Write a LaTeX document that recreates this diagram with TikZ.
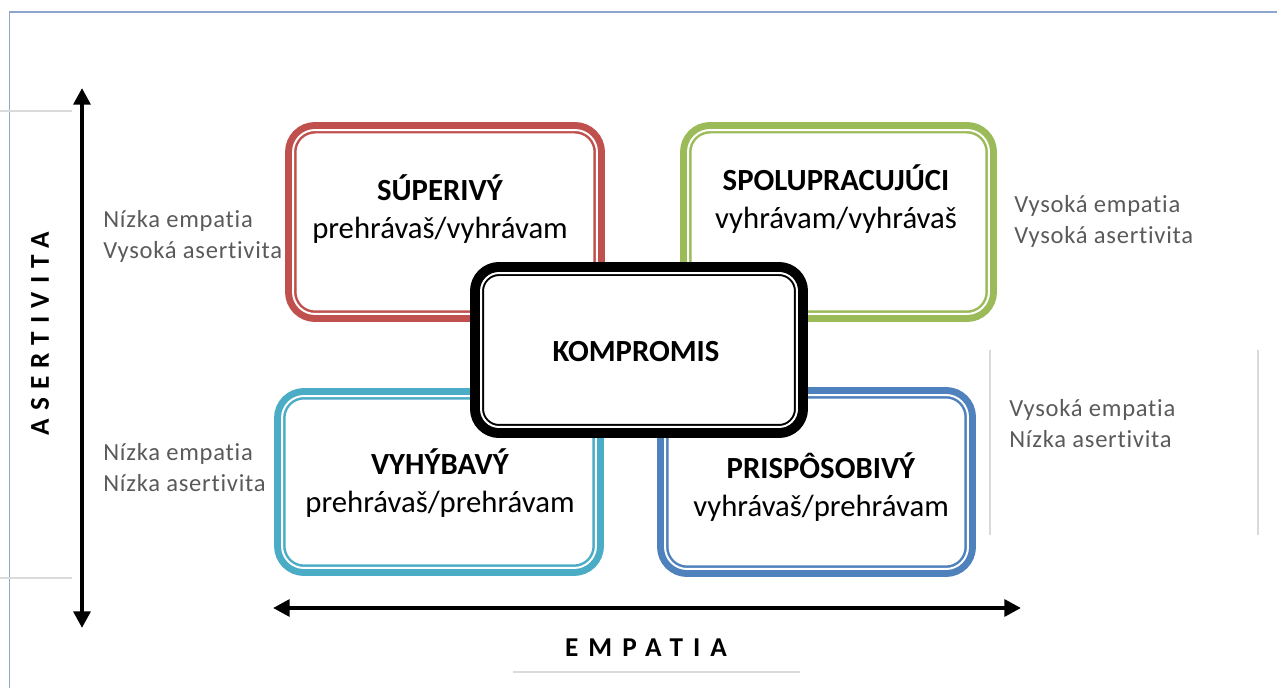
\documentclass[tikz,border=0pt]{standalone}
\usepackage{fontspec}
\setmainfont{Carlito}[Ligatures=CommonOff]
\usepackage{xcolor}
\usetikzlibrary{arrows.meta,positioning}

\definecolor{supred}{HTML}{C0504D}
\definecolor{spolgreen}{HTML}{9BBB59}
\definecolor{vyhcyan}{HTML}{4BACC6}
\definecolor{prisblue}{HTML}{4F81BD}
\definecolor{sidegray}{HTML}{5A5A5A}
\definecolor{frameblue}{HTML}{8EA5CF}
\definecolor{rulegray}{HTML}{DADADA}

\begin{document}
\begin{tikzpicture}[
    x=0.02cm, y=-0.02cm,
    box/.style={rectangle, rounded corners=0.44cm, fill=white, draw=#1,
        line width=3.97pt,
        preaction={draw=#1, line width=9.07pt},
        postaction={draw=white, line width=1.13pt}},
    midbox/.style={rectangle, rounded corners=0.36cm, fill=white, draw=black,
        line width=3.4pt,
        preaction={draw=black, line width=12.5pt},
        postaction={draw=white, line width=1.13pt}},
    boxtext/.style={align=center, font=\fontsize{17.5}{21.5}\selectfont},
    sidenote/.style={align=left, anchor=west, inner xsep=0pt, text=sidegray,
        font=\fontsize{14}{17.6}\selectfont\addfontfeature{LetterSpace=3}},
    axislabel/.style={font=\fontsize{15.5}{18}\selectfont\bfseries\addfontfeature{LetterSpace=#1}},
    axisarrow/.style={{Triangle[length=9.5pt,width=9.5pt]}-{Triangle[length=9.5pt,width=9.5pt]}, line width=2.3pt},
    thinrule/.style={draw=rulegray, line width=0.8pt}
]
    \useasboundingbox (0,0) rectangle (1277,688);

    % Page frame
    \draw[draw=frameblue, line width=0.9pt] (9.5,688) -- (9.5,12) -- (1277,12);
    \draw[thinrule] (0,111) -- (72,111);
    \draw[thinrule] (0,578) -- (72,578);
    \draw[thinrule] (990,350) -- (990,535);
    \draw[thinrule] (1258,350) -- (1258,535);
    \draw[thinrule] (513,672) -- (800,672);

    % Style boxes
    \node[box=supred, minimum width=6.08cm, minimum height=3.68cm] (sup) at (445,222) {};
    \node[box=spolgreen, minimum width=6.02cm, minimum height=3.68cm] (spol) at (838.5,222) {};
    \node[box=vyhcyan, minimum width=6.28cm, minimum height=3.44cm] (vyh) at (439,482) {};
    \node[box=prisblue, minimum width=6.06cm, minimum height=3.48cm] (pris) at (816.5,482) {};
    \node[midbox, minimum width=6.32cm, minimum height=3.08cm] (komp) at (639,350) {};

    % Box texts
    \node[boxtext] (suptxt) at (440,209) {\textbf{SÚPERIVÝ}\\prehrávaš/vyhrávam};
    \node[boxtext] (spoltxt) at (836,199) {\textbf{SPOLUPRACUJÚCI}\\vyhrávam/vyhrávaš};
    \node[boxtext] (vyhtxt) at (440,483) {\textbf{VYHÝBAVÝ}\\prehrávaš/prehrávam};
    \node[boxtext] (pristxt) at (821,487) {\textbf{PRISPÔSOBIVÝ}\\vyhrávaš/prehrávam};
    \node[boxtext, font=\fontsize{17.5}{21.5}\selectfont\bfseries] (komptxt) at (636,352) {KOMPROMIS};

    % Side notes
    \node[sidenote] (suptip) at (103,236) {Nízka empatia\\Vysoká asertivita};
    \node[sidenote] (spoltip) at (1014,221) {Vysoká empatia\\Vysoká asertivita};
    \node[sidenote] (vyhtip) at (103,468) {Nízka empatia\\Nízka asertivita};
    \node[sidenote] (pristip) at (1009,424) {Vysoká empatia\\Nízka asertivita};

    % Axes
    \coordinate (atop) at (82,88);
    \coordinate (abot) at (82,628);
    \coordinate (eleft) at (273,608);
    \coordinate (eright) at (1021,608);
    \draw[axisarrow] (abot) -- (atop);
    \draw[axisarrow] (eleft) -- (eright);
    \node[axislabel=30, rotate=90] (asert) at (40,334) {ASERTIVITA};
    \node[axislabel=37] (empat) at (646,648) {EMPATIA};

\end{tikzpicture}
\end{document}
